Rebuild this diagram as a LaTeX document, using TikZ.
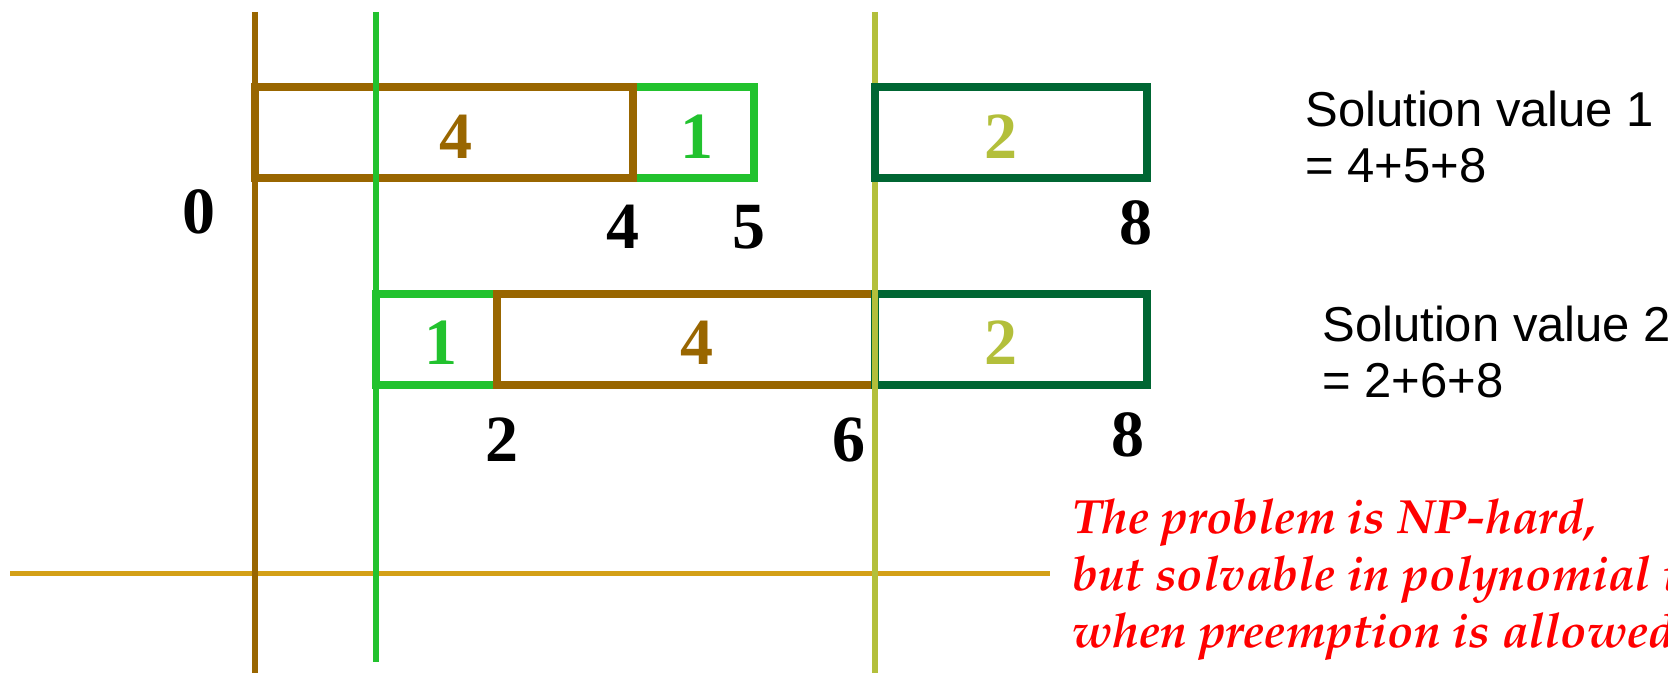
\documentclass[tikz,border=0pt]{standalone}
\usepackage[T1,TU]{fontenc}
\usepackage{fontspec}
\setmainfont{Liberation Serif}
\setsansfont{Liberation Sans}
\usepackage{xcolor}
\definecolor{jobbrown}{HTML}{996600}
\definecolor{jobgreen}{HTML}{22C22E}
\definecolor{jobolive}{HTML}{B3BF3B}
\definecolor{jobdark}{HTML}{006633}
\definecolor{axisgold}{HTML}{D4A017}
\definecolor{notered}{HTML}{FF0000}
\newcommand{\palafont}{\fontencoding{T1}\fontfamily{ppl}\fontseries{b}\fontshape{it}}

\begin{document}
\begin{tikzpicture}[x=0.5pt,y=-0.5pt,
  timeline/.style={line width=3pt},
  jobbox/.style={line width=4pt},
  joblabel/.style={font=\bfseries\fontsize{33}{33}\selectfont, inner sep=0pt},
  ticklabel/.style={font=\bfseries\fontsize{33}{33}\selectfont, inner sep=0pt},
  sumtext/.style={font=\sffamily\fontsize{24.5}{28}\selectfont, align=left,
    anchor=base west, inner sep=0pt}]
  \useasboundingbox (0,0) rectangle (1668,673);

  % time axis
  \draw[axisgold, line width=2.5pt] (10,573) -- (1050,573);

  % second schedule
  \draw[jobbox, jobgreen] (376,294) rectangle (497,385);
  \draw[jobbox, jobbrown] (497,294) rectangle (875,385);
  \draw[jobbox, jobdark] (875,294) rectangle (1147,385);

  % first schedule
  \draw[jobbox, jobgreen] (633,87) rectangle (754,178);
  \draw[jobbox, jobbrown] (255,87) rectangle (633,178);

  % release lines
  \draw[timeline, jobbrown] (255,12) -- (255,673);
  \draw[timeline, jobgreen] (376,12) -- (376,662);
  \draw[timeline, jobolive] (875,12) -- (875,673);
  \draw[jobbox, jobdark] (875,87) rectangle (1147,178);

  % job lengths
  \node[joblabel, text=jobbrown] (upfour) at (456,137) {4};
  \node[joblabel, text=jobgreen] (upone) at (697,137) {1};
  \node[joblabel, text=jobolive] (uptwo) at (1001,137) {2};
  \node[joblabel, text=jobgreen] (lowone) at (441,343) {1};
  \node[joblabel, text=jobbrown] (lowfour) at (697,343) {4};
  \node[joblabel, text=jobolive] (lowtwo) at (1001,343) {2};

  % completion times
  \node[ticklabel] (tzero) at (199,212) {0};
  \node[ticklabel] (tfour) at (623,227) {4};
  \node[ticklabel] (tfive) at (749,227) {5};
  \node[ticklabel] (teight) at (1136,223) {8};
  \node[ticklabel] (ttwo) at (502,440) {2};
  \node[ticklabel] (tsix) at (849,440) {6};
  \node[ticklabel] (teightb) at (1128,435) {8};

  % base of the last line
  \node[sumtext] (solone) at (1305,183) {Solution value 1\\= 4+5+8};
  \node[sumtext] (soltwo) at (1322,397) {Solution value 2\\= 2+6+8};

  \node[anchor=base west, align=left, inner sep=0pt, text=notered,
    font=\palafont\fontsize{24}{28.5}\selectfont] (note) at (1072,647)
    {The problem is NP-hard,\\but solvable in polynomial time\\when preemption is allowed.};
\end{tikzpicture}
\end{document}
